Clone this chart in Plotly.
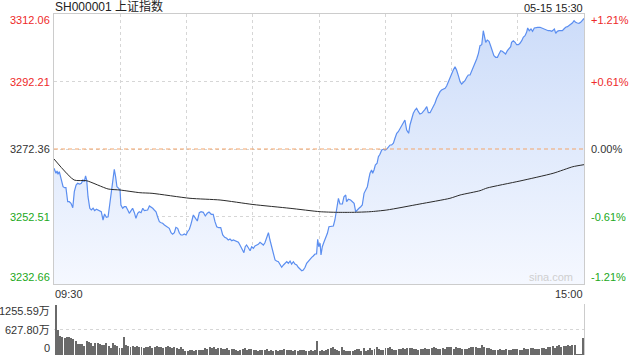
import plotly.graph_objects as go

# ---------------- data ----------------
title_text = "SH000001 上证指数"
date_text = "05-15 15:30"
prev_close = 3272.36
price_ticks = [3232.66, 3252.51, 3272.36, 3292.21, 3312.06]
price_tick_labels = ["3232.66", "3252.51", "3272.36", "3292.21", "3312.06"]
pct_tick_labels = ["-1.21%", "-0.61%", "0.00%", "+0.61%", "+1.21%"]
vol_ticks = [0, 627.80, 1255.59]
vol_tick_labels = ["0", "627.80万", "1255.59万"]
time_labels = ["09:30", "15:00"]

# minutes since 09:30 (trading minutes, lunch break removed)
price_minutes = [
    0, 0.9, 1.4, 1.8, 2.4, 3.3, 4.1, 4.8, 5.4, 6.2, 6.9, 7.7, 8.5, 9.2, 10.0, 10.7, 11.6, 12.4,
    13.1, 13.7, 14.3, 14.8, 15.4, 16.2, 16.9, 17.7, 18.4, 19.2, 19.9, 20.7, 21.4, 22.2, 22.9,
    23.7, 24.5, 25.2, 26.0, 26.7, 27.3, 27.9, 28.5, 29.3, 29.9, 30.3, 31.1, 31.8, 32.6, 33.4,
    34.1, 34.9, 35.6, 36.4, 37.1, 37.9, 38.6, 39.4, 40.2, 40.9, 41.7, 42.4, 43.2, 43.9, 44.7,
    45.4, 46.2, 46.9, 47.7, 48.5, 49.2, 50.0, 50.7, 51.5, 52.2, 53.0, 53.7, 54.5, 55.2, 56.0,
    56.8, 57.5, 58.3, 59.0, 59.8, 60.5, 61.3, 62.0, 63.1, 63.8, 64.9, 65.8, 66.6, 67.6, 68.5,
    69.4, 70.2, 71.2, 72.1, 72.9, 73.7, 74.6, 75.5, 76.4, 77.3, 78.2, 78.9, 79.7, 80.5, 81.2,
    82.0, 82.7, 83.5, 84.2, 85.1, 86.0, 86.6, 87.2, 88.0, 88.8, 89.5, 90.3, 91.0, 91.8, 92.5,
    93.3, 94.0, 94.8, 95.5, 96.3, 97.1, 97.8, 98.6, 99.3, 100.1, 100.8, 101.6, 102.3, 103.1,
    103.9, 104.6, 105.4, 106.1, 106.9, 107.6, 108.4, 109.1, 109.9, 110.6, 111.4, 112.2, 112.9,
    113.7, 114.4, 115.2, 115.9, 116.7, 117.4, 118.2, 118.9, 119.4, 119.9, 120.5, 120.9, 121.5,
    122.3, 123.0, 123.8, 124.5, 126.5, 127.2, 128.0, 128.8, 129.5, 130.6, 131.3, 132.1, 132.5,
    133.3, 134.3, 135.1, 135.9, 136.6, 137.4, 138.1, 138.9, 139.6, 140.4, 141.1, 141.9, 142.6,
    143.1, 143.8, 144.3, 144.9, 145.5, 146.3, 146.9, 147.6, 148.4, 149.1, 149.9, 150.6, 151.4,
    152.2, 152.9, 153.7, 154.4, 155.2, 155.9, 156.7, 157.4, 158.2, 158.9, 159.7, 160.6, 161.2,
    162.0, 162.7, 163.5, 164.2, 165.0, 165.7, 166.5, 167.2, 168.0, 168.8, 169.5, 170.3, 171.0,
    171.8, 172.5, 173.3, 174.0, 174.8, 175.5, 176.3, 177.1, 177.8, 178.6, 179.3, 180.1, 180.8,
    181.6, 182.3, 183.1, 183.9, 184.6, 185.4, 186.1, 186.9, 187.6, 188.4, 189.1, 189.9, 190.6,
    191.4, 192.2, 192.9, 193.7, 194.4, 194.9, 195.5, 196.2, 197.0, 197.7, 198.5, 199.2, 200.0,
    200.8, 201.5, 202.3, 203.0, 203.8, 204.5, 205.3, 206.0, 206.8, 207.2, 208.0, 208.8, 209.5,
    210.3, 211.0, 211.8, 212.5, 213.3, 214.0, 214.5, 215.2, 216.0, 216.7, 217.5, 218.3, 219.0,
    220.1, 220.8, 221.6, 222.3, 223.1, 223.8, 224.6, 225.4, 226.1, 226.6, 227.2, 227.9, 228.7,
    229.4, 230.2, 230.9, 231.7, 232.5, 233.2, 234.0, 234.7, 235.5, 236.2, 237.0, 237.7, 238.5,
    239.3, 240.0,
]
price_values = [
    3266.68, 3265.21, 3265.89, 3264.92, 3265.69, 3263.74, 3261.27, 3260.98, 3260.98, 3256.86,
    3256.86, 3256.39, 3255.10, 3259.80, 3261.77, 3262.27, 3262.07, 3262.27, 3263.24, 3262.74,
    3264.42, 3263.24, 3258.33, 3254.92, 3254.42, 3254.92, 3254.22, 3254.63, 3254.42, 3254.22,
    3253.92, 3251.48, 3253.25, 3252.27, 3252.45, 3255.89, 3260.30, 3263.74, 3266.39, 3264.21,
    3261.27, 3260.80, 3260.30, 3255.89, 3254.92, 3255.39, 3255.39, 3254.42, 3253.45, 3254.22,
    3254.92, 3253.63, 3251.98, 3253.45, 3253.92, 3253.63, 3254.92, 3254.22, 3254.22, 3254.42,
    3255.60, 3255.39, 3254.92, 3254.42, 3253.92, 3252.45, 3250.98, 3250.69, 3250.51, 3250.01,
    3249.72, 3249.51, 3249.04, 3247.75, 3247.28, 3247.75, 3249.33, 3249.04, 3247.57, 3247.07,
    3247.07, 3247.36, 3247.07, 3248.04, 3248.75, 3250.20, 3252.95, 3252.27, 3251.19, 3253.63,
    3253.92, 3253.74, 3252.66, 3253.45, 3253.83, 3253.16, 3253.16, 3250.98, 3249.51, 3249.22,
    3249.22, 3247.07, 3246.39, 3246.10, 3245.60, 3245.89, 3245.39, 3245.60, 3245.30, 3245.10,
    3244.92, 3244.13, 3243.16, 3241.86, 3243.63, 3244.13, 3243.33, 3242.45, 3243.63, 3243.16,
    3243.84, 3244.13, 3244.33, 3244.92, 3244.63, 3244.13, 3244.80, 3246.10, 3247.75, 3245.60,
    3243.63, 3242.16, 3239.72, 3239.42, 3239.22, 3238.45, 3237.57, 3238.25, 3238.75, 3239.22,
    3238.75, 3239.42, 3238.54, 3239.22, 3238.54, 3238.25, 3237.57, 3236.98, 3236.57, 3236.78,
    3237.57, 3238.75, 3239.42, 3239.92, 3240.51, 3240.89, 3241.48, 3241.48, 3245.81, 3243.63,
    3244.63, 3241.19, 3243.63, 3245.10, 3246.10, 3247.57, 3249.51, 3249.72, 3251.48, 3254.92,
    3257.86, 3256.19, 3256.19, 3258.33, 3258.83, 3256.86, 3257.57, 3257.36, 3256.86, 3256.39,
    3253.92, 3254.63, 3254.92, 3255.39, 3255.89, 3259.33, 3260.30, 3261.27, 3263.74, 3265.21,
    3266.18, 3265.21, 3266.18, 3267.65, 3268.16, 3270.10, 3270.80, 3272.07, 3272.27, 3272.07,
    3272.27, 3273.04, 3273.54, 3273.54, 3274.04, 3275.51, 3276.98, 3277.45, 3278.45, 3279.42,
    3280.39, 3280.89, 3277.95, 3276.98, 3279.42, 3281.39, 3282.86, 3283.83, 3284.33, 3283.33,
    3282.65, 3282.86, 3283.33, 3284.03, 3284.80, 3283.03, 3283.03, 3283.83, 3284.80, 3285.80,
    3287.27, 3288.45, 3289.21, 3289.71, 3289.92, 3290.21, 3290.89, 3292.15, 3293.62, 3294.91,
    3295.59, 3296.56, 3295.59, 3293.92, 3292.15, 3291.47, 3291.97, 3292.45, 3293.45, 3294.12,
    3294.12, 3295.39, 3296.86, 3297.56, 3298.83, 3300.50, 3302.74, 3303.03, 3307.15, 3305.68,
    3303.74, 3304.41, 3304.03, 3302.74, 3300.80, 3299.80, 3299.33, 3299.33, 3300.30, 3301.27,
    3301.09, 3300.80, 3300.30, 3301.27, 3301.77, 3302.44, 3303.74, 3304.21, 3303.74, 3303.03,
    3303.03, 3303.44, 3304.21, 3305.21, 3305.68, 3306.67, 3307.94, 3307.15, 3307.65, 3306.97,
    3307.94, 3308.15, 3308.15, 3308.15, 3307.94, 3307.94, 3307.65, 3307.35, 3307.15, 3307.15,
    3306.97, 3307.35, 3307.65, 3306.38, 3306.97, 3307.15, 3307.15, 3307.15, 3307.65, 3308.15,
    3308.33, 3308.62, 3308.91, 3309.41, 3310.09, 3309.62, 3309.41, 3309.32, 3309.62, 3310.30,
    3310.74,
]

avg_minutes = [0, 9.1, 14.7, 24.5, 29.9, 38.9, 44.4, 61.6, 75.2, 90.1, 106.9, 120.5, 128.0,
               135.4, 143.1, 150.7, 165.7, 179.3, 183.9, 192.9, 196.1, 211.0, 226.0, 235.0, 240.0]
avg_values = [3269.42, 3263.24, 3263.04, 3260.60, 3260.30, 3259.51, 3259.33, 3257.86, 3257.36,
              3256.04, 3254.92, 3253.92, 3253.74, 3253.74, 3253.92, 3254.42, 3256.19, 3257.86,
              3258.83, 3260.10, 3260.89, 3262.95, 3265.21, 3267.16, 3267.75]

# volume per minute (万), minute 0 .. 240
vol_values = [
    1240, 610, 460, 455, 410, 445, 435, 410, 390, 350,
    280, 275, 270, 210, 350, 320, 290, 215, 295, 290,
    275, 250, 235, 290, 210, 170, 300, 255, 215, 180,
    175, 450, 240, 225, 200, 215, 205, 230, 200, 190,
    180, 205, 195, 210, 175, 200, 215, 190, 200, 170,
    185, 210, 190, 175, 185, 170, 160, 205, 150, 110,
    100, 115, 120, 100, 130, 120, 135, 120, 170, 160,
    185, 170, 200, 140, 175, 165, 150, 160, 175, 125,
    140, 150, 120, 110, 130, 150, 165, 130, 150, 140,
    120, 125, 100, 135, 125, 120, 155, 110, 125, 110,
    120, 100, 130, 115, 140, 120, 130, 135, 110, 120,
    110, 125, 115, 120, 100, 105, 120, 110, 115, 335,
    110, 125, 95, 130, 150, 175, 200, 140, 130, 110,
    190, 120, 100, 90, 95, 100, 120, 160, 150, 110,
    180, 110, 120, 165, 130, 150, 185, 140, 120, 135,
    180, 170, 185, 150, 130, 125, 140, 155, 180, 160,
    170, 180, 175, 150, 140, 130, 150, 140, 165, 160,
    140, 180, 195, 180, 150, 160, 175, 150, 185, 200,
    185, 160, 190, 165, 170, 150, 140, 160, 175, 195,
    200, 185, 165, 180, 250, 200, 170, 165, 150, 120,
    130, 125, 140, 120, 135, 155, 130, 120, 150, 145,
    160, 135, 120, 165, 150, 140, 170, 175, 150, 140,
    160, 170, 175, 150, 200, 190, 210, 175, 220, 235,
    205, 215, 225, 240, 230, 250, 255, 8, 6, 8,
    420,
]
vol_minutes = list(range(len(vol_values)))

# ---------------- styling ----------------
FONT = "Arial, 'Liberation Sans', 'Noto Sans CJK SC', sans-serif"
RED = "#ee2a2a"
GREEN = "#22a822"
DARK = "#333333"
GRID = "#d6d6d6"
BORDER = "#cccccc"

W, H = 640, 360
ML, MR, MT, MB = 54, 56, 14, 5
plot_h = H - MT - MB
main_bottom_px = 284
vol_top_px = 304
main_dom = [(H - MB - main_bottom_px) / plot_h, 1.0]
vol_dom = [0.0, (H - MB - vol_top_px) / plot_h]

fig = go.Figure()

fig.add_trace(go.Scatter(
    x=price_minutes, y=price_values, mode="lines",
    line=dict(color="#5b8ef0", width=1.2),
    fill="tozeroy",
    fillgradient=dict(type="vertical",
                      colorscale=[[0, "rgba(245,248,255,1)"], [1, "rgba(204,220,249,1)"]],
                      start=price_ticks[0], stop=price_ticks[-1]),
    hoverinfo="skip", showlegend=False, xaxis="x", yaxis="y",
))
fig.add_trace(go.Scatter(
    x=avg_minutes, y=avg_values, mode="lines",
    line=dict(color="#2a2a2a", width=1, shape="spline", smoothing=0.6),
    hoverinfo="skip", showlegend=False, xaxis="x", yaxis="y",
))
fig.add_trace(go.Bar(
    x=vol_minutes, y=vol_values, width=0.45,
    marker=dict(color="#6a6a6a", line=dict(width=0)),
    hoverinfo="skip", showlegend=False, xaxis="x2", yaxis="y2",
))

# previous close dashed line
fig.add_shape(type="line", xref="x", yref="y", x0=0, x1=240, y0=prev_close, y1=prev_close,
              line=dict(color="#f4a56a", width=1, dash="4px,3px"), layer="above")

ann = []
for i, (v, lab, pl) in enumerate(zip(price_ticks, price_tick_labels, pct_tick_labels)):
    if v > prev_close + 1e-6:
        col = RED
    elif v < prev_close - 1e-6:
        col = GREEN
    else:
        col = DARK
    ys = 0
    if i == 0:
        ys = 7
    elif i == len(price_ticks) - 1:
        ys = -6
    ann.append(dict(xref="paper", yref="y", x=0, y=v, text=lab, showarrow=False,
                    xanchor="right", yanchor="middle", xshift=-2, yshift=ys,
                    font=dict(family=FONT, size=11, color=col)))
    ann.append(dict(xref="paper", yref="y", x=1, y=v, text=pl, showarrow=False,
                    xanchor="left", yanchor="middle", xshift=5, yshift=ys,
                    font=dict(family=FONT, size=11, color=col)))

for i, (v, lab) in enumerate(zip(vol_ticks, vol_tick_labels)):
    ys = 0
    if i == 0:
        ys = 7
    elif i == len(vol_ticks) - 1:
        ys = -7
    ann.append(dict(xref="paper", yref="y2", x=0, y=v, text=lab, showarrow=False,
                    xanchor="right", yanchor="middle", xshift=-2, yshift=ys,
                    font=dict(family=FONT, size=11, color=DARK)))

# time labels under the main chart
ann.append(dict(xref="paper", yref="paper", x=0, y=main_dom[0], text=time_labels[0],
                showarrow=False, xanchor="left", yanchor="top", yshift=-2, xshift=-1,
                font=dict(family=FONT, size=11, color=DARK)))
ann.append(dict(xref="paper", yref="paper", x=1, y=main_dom[0], text=time_labels[1],
                showarrow=False, xanchor="right", yanchor="top", yshift=-2, xshift=1,
                font=dict(family=FONT, size=11, color=DARK)))
# header
ann.append(dict(xref="paper", yref="paper", x=0, y=1, text=title_text, showarrow=False,
                xanchor="left", yanchor="bottom", xshift=-1, yshift=-2,
                font=dict(family=FONT, size=12, color="#222222")))
ann.append(dict(xref="paper", yref="paper", x=1, y=1, text=date_text, showarrow=False,
                xanchor="right", yanchor="bottom", xshift=1, yshift=-2,
                font=dict(family=FONT, size=11, color="#222222")))
# watermark
ann.append(dict(xref="paper", yref="y", x=1, y=price_ticks[0], text="sina.com", showarrow=False,
                xanchor="right", yanchor="bottom", xshift=-9, yshift=-1,
                font=dict(family=FONT, size=11, color="#cfcfcf")))

fig.update_layout(
    width=W, height=H, autosize=False,
    margin=dict(l=ML, r=MR, t=MT, b=MB, pad=0),
    paper_bgcolor="white", plot_bgcolor="white",
    bargap=0,
    xaxis=dict(domain=[0, 1], range=[0, 240], tickvals=list(range(0, 241, 30)),
               showticklabels=False, ticks="", showgrid=True, gridcolor=GRID, griddash="dot",
               gridwidth=1, zeroline=False, showline=True, mirror=True, linecolor=BORDER,
               linewidth=1, anchor="y", fixedrange=True),
    yaxis=dict(domain=main_dom, range=[price_ticks[0], price_ticks[-1]], tickvals=price_ticks,
               showticklabels=False, ticks="", showgrid=True, gridcolor=GRID, griddash="dot",
               gridwidth=1, zeroline=False, showline=True, mirror=True, linecolor=BORDER,
               linewidth=1, anchor="x", fixedrange=True),
    xaxis2=dict(domain=[0, 1], range=[-0.8, 240.3], showticklabels=False, ticks="",
                showgrid=False, zeroline=False, showline=False, anchor="y2", fixedrange=True),
    yaxis2=dict(domain=vol_dom, range=[0, vol_ticks[-1]], tickvals=vol_ticks[1:],
                showticklabels=False, ticks="", showgrid=True, gridcolor=GRID, griddash="dot",
                gridwidth=1, zeroline=False, showline=True, side="right", linecolor=BORDER,
                linewidth=1, anchor="x2", fixedrange=True),
    annotations=ann,
    showlegend=False,
)

fig.write_html("out.html", config={"displayModeBar": False},
               post_script="document.body.style.margin='0';document.body.style.overflow='hidden';")
